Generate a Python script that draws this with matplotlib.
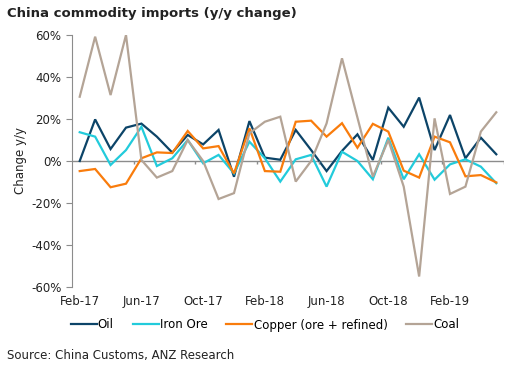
import numpy as np
import matplotlib
matplotlib.use("Agg")
import matplotlib.pyplot as plt

months = ["Feb-17", "Mar-17", "Apr-17", "May-17", "Jun-17", "Jul-17", "Aug-17",
          "Sep-17", "Oct-17", "Nov-17", "Dec-17", "Jan-18", "Feb-18", "Mar-18",
          "Apr-18", "May-18", "Jun-18", "Jul-18", "Aug-18", "Sep-18", "Oct-18",
          "Nov-18", "Dec-18", "Jan-19", "Feb-19", "Mar-19", "Apr-19", "May-19"]

oil = [0, 19.8, 5.7, 15.9, 17.8, 11.6, 4, 12.4, 7.9, 14.8, -7.5, 19, 1.6, 0.6,
       14.8, 5.2, -4.8, 4.8, 12.7, 0.5, 25.4, 16.3, 30.2, 5.2, 21.9, 1.3, 11.1, 3.2]
iron_ore = [13.7, 11.6, -1.9, 5.2, 16.3, -2.4, 1.3, 10, -1.1, 2.9, -5.9, 9.2, 1.3, -9.8,
            0.8, 2.9, -12.2, 4.4, 0, -8.7, 11.1, -8.7, 3.2, -8.9, -1.6, 0.8, -2.7, -10.6]
copper = [-4.8, -3.8, -12.5, -10.8, 1.3, 4.1, 3.8, 14.3, 6, 7.1, -5.9, 15.6, -4.8, -5.1,
          18.7, 19.2, 11.6, 18.0, 6.3, 17.7, 14, -4.6, -7.9, 11.6, 8.9, -7.3, -6.7, -10.2]
coal = [30.6, 59.2, 31.4, 60, 0.5, -7.9, -4.8, 10, 0, -18.1, -15.3, 13.2, 18.7, 21.1,
        -9.8, 0, 17.9, 48.9, 20.7, -7.5, 10, -12.2, -55, 20.3, -15.7, -12.2, 14, 23.2]

series = [("Oil", oil, "#0c4468"),
          ("Iron Ore", iron_ore, "#22cbdb"),
          ("Copper (ore + refined)", copper, "#f97c0c"),
          ("Coal", coal, "#b4a496")]

yticks = [-60, -40, -20, 0, 20, 40, 60]

plt.rcParams["font.family"] = "DejaVu Sans"
fig = plt.figure(figsize=(5.16, 3.74), dpi=100)
ax = fig.add_axes([72 / 516, 1 - 287 / 374, 432 / 516, 252 / 374])

x = np.arange(len(months))
for name, vals, col in series:
    ax.plot(x, vals, color=col, lw=1.6, label=name, solid_joinstyle="miter")

ax.set_xlim(-0.5, len(months) - 0.5)
ax.set_ylim(-60, 60)

# zero line with category boundary ticks
grey = "#8c8c8c"
ax.axhline(0, color=grey, lw=1, zorder=0)
bounds = np.arange(3.5, len(months), 4)
ax.vlines(bounds, -1.5, 0, color=grey, lw=1)

for s in ["top", "right", "bottom"]:
    ax.spines[s].set_visible(False)
ax.spines["left"].set_color(grey)

ax.set_yticks(yticks)
ax.set_yticklabels([f"{v}%" for v in yticks])
ax.tick_params(axis="y", colors=grey, length=4, labelsize=8.5, labelcolor="#222222")
ax.set_xticks(x[::4])
ax.set_xticklabels(months[::4])
ax.tick_params(axis="x", length=0, pad=6, labelsize=8.5, labelcolor="#222222")

ax.set_ylabel("Change y/y", fontsize=8.5, color="#222222", labelpad=3)

fig.text(7 / 516, 1 - 14 / 374, "China commodity imports (y/y change)",
         fontsize=9.5, fontweight="bold", color="#222222", va="center")
fig.text(7 / 516, 1 - 356 / 374, "Source: China Customs, ANZ Research",
         fontsize=8.5, color="#222222", va="center")

ax.legend(loc="center", bbox_to_anchor=(265 / 516, 1 - 325 / 374),
          bbox_transform=fig.transFigure, ncol=4, frameon=False,
          fontsize=8.5, handlelength=2.2, handletextpad=0.1, columnspacing=1.6)

fig.savefig("out.png", dpi=100)
